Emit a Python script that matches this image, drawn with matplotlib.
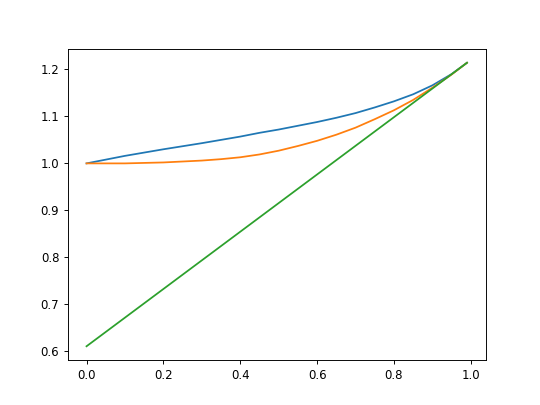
import matplotlib
matplotlib.use("Agg")
import matplotlib.pyplot as plt

x_blue = [0.0, 0.05, 0.1, 0.2, 0.3, 0.4, 0.45, 0.5, 0.55, 0.6, 0.65, 0.7, 0.75, 0.8, 0.85, 0.9, 0.95, 0.99]
y_blue = [1.000, 1.008, 1.016, 1.030, 1.043, 1.057, 1.065, 1.072, 1.080, 1.088, 1.097, 1.107, 1.119, 1.132, 1.147, 1.166, 1.190, 1.214]

x_orange = [0.0, 0.1, 0.2, 0.3, 0.35, 0.4, 0.45, 0.5, 0.55, 0.6, 0.65, 0.7, 0.75, 0.8, 0.85, 0.9, 0.95, 0.99]
y_orange = [1.000, 1.000, 1.002, 1.006, 1.009, 1.013, 1.019, 1.027, 1.037, 1.048, 1.061, 1.076, 1.094, 1.113, 1.135, 1.161, 1.189, 1.214]

x_green = [0.0, 0.99]
y_green = [0.611, 1.214]

fig, ax = plt.subplots(figsize=(6.4, 4.8), dpi=84.375)
ax.plot(x_blue, y_blue)
ax.plot(x_orange, y_orange)
ax.plot(x_green, y_green)
fig.savefig("out.png", dpi=84.375)
